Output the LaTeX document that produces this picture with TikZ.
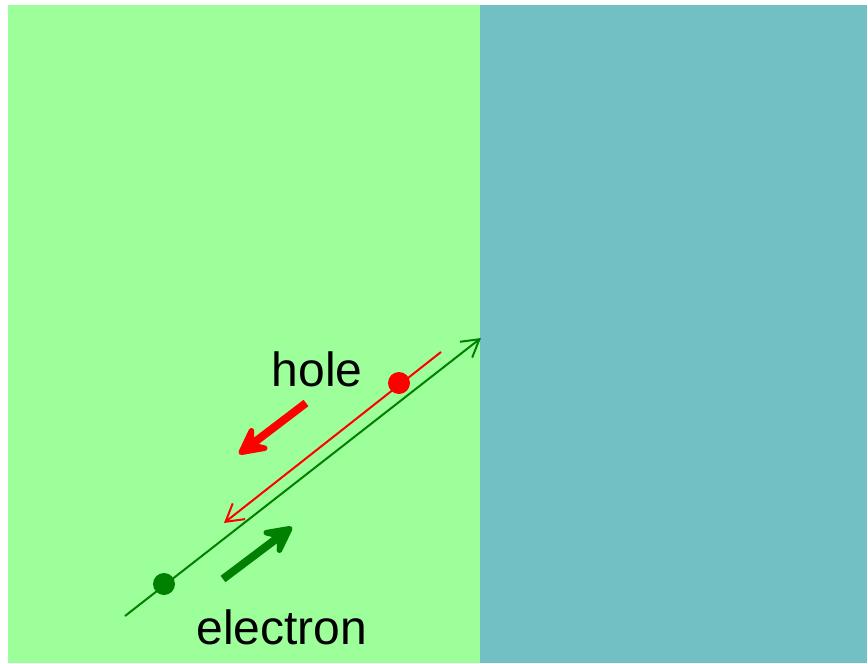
\documentclass[tikz,border=0pt]{standalone}
\usepackage{fontspec}
\setmainfont{Liberation Sans}
\usetikzlibrary{arrows.meta}
\definecolor{pside}{HTML}{9CFF99}
\definecolor{nside}{HTML}{73C0C4}
\definecolor{ecol}{HTML}{008000}
\definecolor{hcol}{HTML}{FF0000}
\tikzset{
  carrier/.style={circle, fill=#1, minimum size=22pt, inner sep=0pt},
  path line/.style={draw=#1, line width=2pt, -{Straight Barb[length=17pt, width=20pt]}},
  drift/.style={draw=#1, line width=8pt, -{Stealth[length=37pt, width=38pt, inset=15pt, round]}},
  label/.style={font=\fontsize{48}{52}\selectfont, inner sep=0pt},
}
\begin{document}
\begin{tikzpicture}[x=1pt, y=-1pt]
  \useasboundingbox (0,0) rectangle (868,664);
  \fill[pside] (8,5) rectangle (480,663);
  \fill[nside] (480,5) rectangle (867,663);
  % electron track
  \coordinate (eA) at (125,616);
  \coordinate (eB) at (481,338);
  \draw[path line=ecol] (eA) -- (eB);
  % hole track
  \coordinate (hA) at (441,352);
  \coordinate (hB) at (224,523);
  \draw[path line=hcol] (hA) -- (hB);
  \node[carrier=ecol] (elec) at (164,584) {};
  \node[carrier=hcol] (hole) at (399,383) {};
  % drift arrows
  \coordinate (eT) at (223,579);
  \coordinate (eH) at (292,527);
  \draw[drift=ecol] (eT) -- (eH);
  \coordinate (hT) at (306,403);
  \coordinate (hH) at (239,454);
  \draw[drift=hcol] (hT) -- (hH);
  \node[label] (holetxt) at (317,369) {hole};
  \node[label] (electxt) at (282,627) {electron};
\end{tikzpicture}
\end{document}
